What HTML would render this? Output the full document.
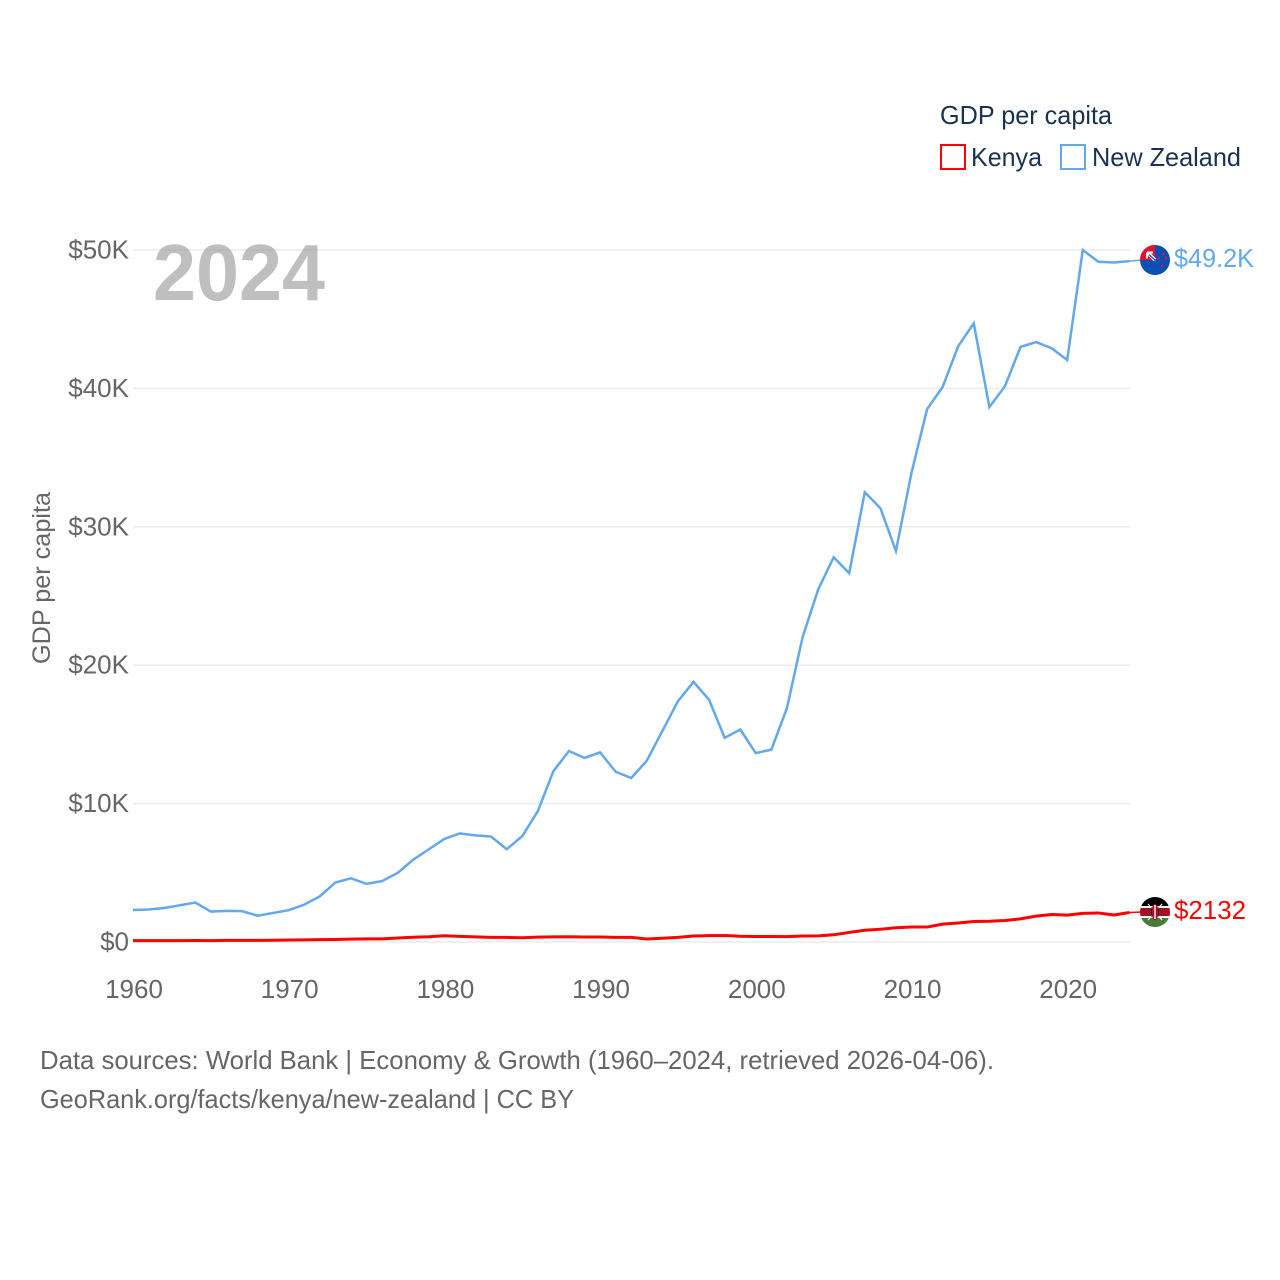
<!DOCTYPE html>
<html lang="en">
<head>
<meta charset="utf-8">
<title>GDP per capita: Kenya and New Zealand</title>
<style>
html,body{margin:0;padding:0;background:#fff;}
svg{display:block;font-family:"Liberation Sans",sans-serif;}
</style>
</head>
<body>
<svg id="chart" width="1280" height="1280" viewBox="0 0 1280 1280" xmlns="http://www.w3.org/2000/svg">
  <defs>
    <clipPath id="nz-clip"><circle cx="1155" cy="260" r="15"/></clipPath>
    <clipPath id="ke-clip"><circle cx="1155" cy="912" r="15"/></clipPath>
  </defs>
  <rect x="0" y="0" width="1280" height="1280" fill="#fff"/>
  <g id="grid"></g>
  <g id="yticks"></g>
  <g id="xticks"></g>
  <text transform="translate(50,664) rotate(-90)" font-size="25" fill="#666" textLength="172" lengthAdjust="spacingAndGlyphs">GDP per capita</text>
  <text x="153" y="300" font-size="80" font-weight="700" fill="#808080" fill-opacity="0.5" textLength="172" lengthAdjust="spacingAndGlyphs">2024</text>

  <text x="940" y="124" font-size="26" fill="#1a3252" textLength="172" lengthAdjust="spacingAndGlyphs">GDP per capita</text>
  <g>
    <rect x="941" y="145" width="24" height="24" fill="none" stroke="#ff0000" stroke-width="2"/>
    <text x="971" y="166" font-size="26" fill="#1a3252" textLength="71" lengthAdjust="spacingAndGlyphs">Kenya</text>
  </g>
  <g>
    <rect x="1061" y="145" width="24" height="24" fill="none" stroke="#62a8ec" stroke-width="2"/>
    <text x="1092" y="166" font-size="26" fill="#1a3252" textLength="149" lengthAdjust="spacingAndGlyphs">New Zealand</text>
  </g>

  <path id="line-nz" fill="none" stroke="#62a8ec" stroke-width="2.5" stroke-linejoin="miter"/>
  <path id="line-ke" fill="none" stroke="#ff0000" stroke-width="3" stroke-linejoin="round"/>
  <line id="leader-nz" stroke="#62a8ec" stroke-width="1.5"/>
  <line id="leader-ke" stroke="#ff0000" stroke-width="1.5"/>

  <g clip-path="url(#nz-clip)">
    <rect x="1140" y="245" width="30" height="30" fill="#0a50b4"/>
    <rect x="1140" y="245" width="15" height="15" fill="#e8112d"/>
    <path d="M1148 253 L1155 260" stroke="#fff" stroke-width="3.5"/>
    <path d="M1147 252.500 h6 M1147 252.500 v6" stroke="#fff" stroke-width="2"/>
    <path d="M1149 254.500 L1155 260" stroke="#0a50b4" stroke-width="1.200"/>
    <circle cx="1163" cy="254" r="1.3" fill="#e8112d"/>
    <circle cx="1158.500" cy="258.500" r="1.3" fill="#e8112d"/>
    <circle cx="1166" cy="258" r="1.3" fill="#e8112d"/>
    <circle cx="1162" cy="266" r="1.3" fill="#e8112d"/>
  </g>
  <g clip-path="url(#ke-clip)">
    <rect x="1140" y="897" width="30" height="10" fill="#000"/>
    <rect x="1140" y="907" width="30" height="10" fill="#a50f26"/>
    <rect x="1140" y="917" width="30" height="11" fill="#4a7a3a"/>
    <rect x="1140" y="906" width="30" height="2" fill="#fff"/>
    <rect x="1140" y="916" width="30" height="2" fill="#fff"/>
    <path d="M1148 904 L1162 920 M1162 904 L1148 920" stroke="#fff" stroke-width="1.2"/>
    <ellipse cx="1155" cy="912" rx="3.500" ry="8" fill="#a50f26"/>
    <path d="M1152 906 Q1150 912 1152 918 Z M1158 906 Q1160 912 1158 918 Z" fill="#000"/>
    <rect x="1154.300" y="905" width="1.400" height="14" fill="#fff"/>
  </g>

  <text id="label-nz" x="1174" y="267" font-size="26" fill="#62a8ec" textLength="80" lengthAdjust="spacingAndGlyphs"></text>
  <text id="label-ke" x="1174" y="919" font-size="26" fill="#ff0000" textLength="72" lengthAdjust="spacingAndGlyphs"></text>

  <text x="40" y="1069" font-size="26" fill="#666" textLength="954" lengthAdjust="spacingAndGlyphs">Data sources: World Bank | Economy &amp; Growth (1960–2024, retrieved 2026-04-06).</text>
  <text x="40" y="1108" font-size="26" fill="#666" textLength="534" lengthAdjust="spacingAndGlyphs">GeoRank.org/facts/kenya/new-zealand | CC BY</text>
</svg>
<script>
const startYear = 1960;
const nzValues = [2.31,2.35,2.46,2.65,2.85,2.2,2.25,2.23,1.9,2.1,2.3,2.7,3.3,4.3,4.6,4.2,4.4,5.0,5.95,6.7,7.45,7.85,7.7,7.62,6.7,7.65,9.45,12.35,13.8,13.3,13.7,12.3,11.85,13.1,15.25,17.4,18.8,17.5,14.75,15.35,13.65,13.9,16.9,22.0,25.45,27.8,26.65,32.5,31.35,28.25,33.9,38.5,40.1,43.05,44.7,38.65,40.15,43.0,43.35,42.9,42.05,50.0,49.15,49.1,49.2];
const keValues = [0.1,0.1,0.1,0.1,0.11,0.1,0.12,0.12,0.12,0.13,0.14,0.15,0.17,0.18,0.21,0.23,0.23,0.29,0.34,0.38,0.45,0.41,0.37,0.33,0.33,0.31,0.35,0.37,0.38,0.36,0.36,0.33,0.33,0.22,0.27,0.33,0.43,0.46,0.47,0.42,0.4,0.4,0.39,0.43,0.44,0.52,0.69,0.85,0.92,1.03,1.08,1.08,1.29,1.37,1.48,1.5,1.55,1.67,1.87,1.99,1.94,2.07,2.1,1.95,2.132];
const yTickValues = [0,10,20,30,40,50];
const yTickLabels = ['$0','$10K','$20K','$30K','$40K','$50K'];
const xTickValues = [1960,1970,1980,1990,2000,2010,2020];

const NS = 'http://www.w3.org/2000/svg';
function xScale(year) { return 133 + (year - 1960) * 15.57; }
function yScale(value) { return 942 - value * 13.84; }
function linePath(values) {
  return values.map(function (v, i) {
    return (i ? 'L' : 'M') + xScale(startYear + i).toFixed(2) + ' ' + yScale(v).toFixed(2);
  }).join(' ');
}

const gridGroup = document.getElementById('grid');
const yGroup = document.getElementById('yticks');
const xGroup = document.getElementById('xticks');

yTickValues.forEach(function (v, i) {
  const ln = document.createElementNS(NS, 'line');
  
  
  ln.setAttribute('x1', 133);
  ln.setAttribute('x2', 1130);
  ln.setAttribute('y1', yScale(v));
  ln.setAttribute('y2', yScale(v));
  ln.setAttribute('stroke', '#ebebeb');
  ln.setAttribute('stroke-width', '1.5');
  gridGroup.appendChild(ln);

  const t = document.createElementNS(NS, 'text');
  
  
  t.setAttribute('x', 129);
  t.setAttribute('y', yScale(v) + 8.5);
  t.setAttribute('text-anchor', 'end');
  t.setAttribute('font-size', '26');
  t.setAttribute('fill', '#666');
  t.textContent = yTickLabels[i];
  yGroup.appendChild(t);
});

xTickValues.forEach(function (year) {
  const t = document.createElementNS(NS, 'text');
  
  
  t.setAttribute('x', xScale(year) + 1);
  t.setAttribute('y', 998);
  t.setAttribute('text-anchor', 'middle');
  t.setAttribute('font-size', '26');
  t.setAttribute('fill', '#666');
  t.textContent = String(year);
  xGroup.appendChild(t);
});

document.getElementById('line-nz').setAttribute('d', linePath(nzValues));
document.getElementById('line-ke').setAttribute('d', linePath(keValues));

const lastIndex = nzValues.length - 1;
const lastX = xScale(startYear + lastIndex);
const leaderNz = document.getElementById('leader-nz');
leaderNz.setAttribute('x1', lastX);
leaderNz.setAttribute('y1', yScale(nzValues[lastIndex]));
leaderNz.setAttribute('x2', 1142);
leaderNz.setAttribute('y2', 260);
const leaderKe = document.getElementById('leader-ke');
leaderKe.setAttribute('x1', lastX);
leaderKe.setAttribute('y1', yScale(keValues[lastIndex]));
leaderKe.setAttribute('x2', 1142);
leaderKe.setAttribute('y2', 912);

document.getElementById('label-nz').textContent = '$' + nzValues[lastIndex].toFixed(1) + 'K';
document.getElementById('label-ke').textContent = '$' + Math.round(keValues[lastIndex] * 1000);
</script>
</body>
</html>
